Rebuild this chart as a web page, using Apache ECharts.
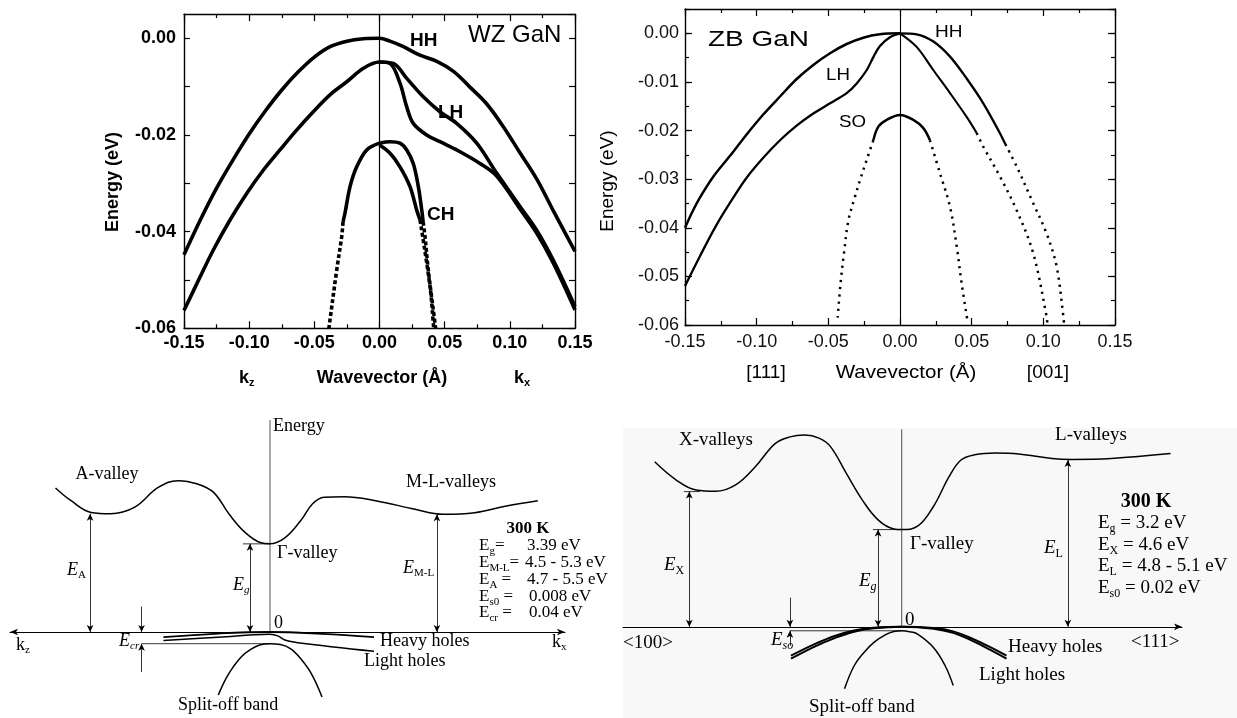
<!DOCTYPE html>
<html><head><meta charset="utf-8">
<script src="https://cdn.jsdelivr.net/npm/echarts@6/dist/echarts.min.js"></script>
<style>html,body{margin:0;padding:0;background:#fff}#c{width:1237px;height:718px}</style>
</head><body><div id="c"></div>
<script>
// ---------- Top-left: WZ GaN valence bands (k in 1/Å, E in eV) ----------
const wzHH = [[-0.15,-0.0448],[-0.1375,-0.0376],[-0.125,-0.031],[-0.1125,-0.0252],[-0.10,-0.0198],[-0.0875,-0.015],[-0.075,-0.0107],[-0.0625,-0.007],[-0.05,-0.0039],[-0.0375,-0.0017],[-0.025,-0.0006],[-0.0125,-0.0001],[0,0],[0.008,-0.0006],[0.018,-0.0017],[0.031,-0.0035],[0.044,-0.0048],[0.057,-0.0069],[0.069,-0.01],[0.082,-0.0135],[0.095,-0.0183],[0.108,-0.0238],[0.121,-0.0293],[0.133,-0.0355],[0.15,-0.0441]];
const wzLH = [[-0.15,-0.0563],[-0.1377,-0.0494],[-0.1275,-0.0438],[-0.1147,-0.0376],[-0.1019,-0.0321],[-0.0892,-0.0273],[-0.0764,-0.0231],[-0.0636,-0.019],[-0.0508,-0.0152],[-0.038,-0.0117],[-0.0251,-0.009],[-0.0124,-0.0062],[0,-0.0049],[0.0106,-0.0052],[0.0209,-0.0083],[0.0336,-0.0121],[0.0464,-0.0152],[0.0592,-0.0176],[0.0746,-0.0217],[0.0899,-0.0279],[0.1078,-0.0348],[0.1206,-0.0397],[0.1333,-0.0459],[0.15,-0.0555]];
const wzLH2 = [[0,-0.0049],[0.0081,-0.0052],[0.0157,-0.0093],[0.0209,-0.0142],[0.0259,-0.0176],[0.0362,-0.02],[0.0464,-0.0214],[0.0592,-0.0231],[0.0771,-0.0259],[0.0899,-0.0285],[0.1078,-0.0353],[0.1206,-0.0403],[0.1333,-0.0465],[0.15,-0.0562]];
const wzCHLeft = [[0,-0.0217],[-0.0098,-0.0231],[-0.0175,-0.0266],[-0.0226,-0.0307],[-0.0265,-0.0362],[-0.028,-0.038]];
const wzCHLeftDots = [[-0.028,-0.038],[-0.029,-0.041],[-0.0328,-0.0479],[-0.038,-0.0583],[-0.0388,-0.06]];
const wzCHRight = [[0,-0.0217],[0.0081,-0.0214],[0.0157,-0.0217],[0.0209,-0.0231],[0.0259,-0.0259],[0.0298,-0.0307],[0.0324,-0.0355],[0.0335,-0.038]];
const wzCHRightDots = [[0.0335,-0.038],[0.0349,-0.041],[0.0374,-0.0479],[0.0426,-0.059],[0.043,-0.06]];
const wzCH2Right = [[0,-0.0221],[0.0081,-0.0238],[0.0157,-0.0266],[0.0234,-0.0307],[0.0285,-0.0355],[0.0311,-0.0376]];
const wzCH2RightDots = [[0.0311,-0.0376],[0.0388,-0.0514],[0.0413,-0.059],[0.0416,-0.06]];

// ---------- Top-right: ZB GaN valence bands ----------
const zbHHLeft = [[-0.15,-0.04],[-0.145,-0.0368],[-0.1396,-0.0338],[-0.1303,-0.0295],[-0.1186,-0.0252],[-0.107,-0.0208],[-0.0954,-0.0167],[-0.0837,-0.013],[-0.0721,-0.0094],[-0.0605,-0.0065],[-0.0488,-0.0041],[-0.0372,-0.0022],[-0.0256,-0.0009],[-0.014,-0.0002],[0,0]];
const zbLHLeft = [[-0.15,-0.052],[-0.1395,-0.0458],[-0.128,-0.0394],[-0.1163,-0.0338],[-0.107,-0.0297],[-0.0954,-0.0256],[-0.0837,-0.022],[-0.0721,-0.019],[-0.0605,-0.0165],[-0.0488,-0.0144],[-0.0372,-0.0123],[-0.0302,-0.0103],[-0.0233,-0.0076],[-0.0186,-0.0049],[-0.014,-0.0026],[-0.007,-0.0008],[0,0]];
const zbHHRight = [[0,0],[0.0116,-0.0002],[0.0233,-0.0017],[0.0349,-0.0048],[0.0465,-0.0093],[0.0581,-0.0144],[0.0698,-0.0206],[0.0735,-0.0228]];
const zbHHRightDots = [[0.0735,-0.0228],[0.0814,-0.0274],[0.093,-0.035],[0.1023,-0.0412],[0.1093,-0.048],[0.114,-0.0583],[0.1145,-0.06]];
const zbLHRight = [[0,0],[0.0116,-0.0028],[0.0233,-0.0076],[0.0349,-0.0123],[0.0465,-0.0172],[0.0535,-0.0205]];
const zbLHRightDots = [[0.0535,-0.0205],[0.0581,-0.0233],[0.0698,-0.0295],[0.0814,-0.0364],[0.093,-0.0453],[0.1023,-0.0583],[0.1028,-0.06]];
const zbSO = [[-0.0186,-0.022],[-0.0151,-0.0192],[-0.0093,-0.0178],[0,-0.0168],[0.0093,-0.0178],[0.0163,-0.0195],[0.0209,-0.022]];
const zbSOLeftDots = [[-0.0186,-0.022],[-0.0233,-0.0261],[-0.0279,-0.0302],[-0.0314,-0.0336],[-0.036,-0.0385],[-0.039,-0.045],[-0.0415,-0.0515],[-0.0435,-0.0585]];
const zbSORightDots = [[0.0209,-0.022],[0.0279,-0.0288],[0.0349,-0.0357],[0.0396,-0.0439],[0.043,-0.0514],[0.047,-0.059]];

// ---------- Bottom-left: WZ GaN schematic (k arbitrary, E in eV-like units) ----------
const wzCond = [[-0.825,5.54],[-0.765,5.05],[-0.688,4.6],[-0.613,4.55],[-0.522,4.79],[-0.430,5.56],[-0.354,5.82],[-0.278,5.69],[-0.217,5.37],[-0.157,4.53],[-0.095,3.82],[-0.035,3.43],[0,3.39],[0.057,3.62],[0.117,4.27],[0.163,4.92],[0.208,5.18],[0.285,5.20],[0.406,5.05],[0.558,4.72],[0.665,4.53],[0.787,4.59],[0.909,4.85],[1.030,5.05]];
const wzHeavy = [[-0.41,-0.2],[-0.2,-0.06],[0,0],[0.2,-0.07],[0.4,-0.2]];
const wzLight = [[-0.41,-0.33],[-0.2,-0.2],[0,-0.09],[0.03,-0.15],[0.057,-0.31],[0.1,-0.4],[0.4,-0.74]];
const wzSplit = [[-0.199,-2.42],[-0.17,-1.8],[-0.142,-1.35],[-0.11,-0.95],[-0.077,-0.69],[-0.04,-0.5],[0,-0.45],[0.04,-0.48],[0.08,-0.65],[0.12,-1.05],[0.16,-1.62],[0.2,-2.5]];
const wzEnergyAxis = [[0,0],[0,8.15]];
const wzGapArrows = [[-0.692,4.55],[-0.077,3.39],[0.642,4.53]];
const wzGapTick = [[-0.104,3.39],[0,3.39]];
const wzCrMarker = [-0.494, 0.98, -1.54, -0.45];
const wzCrLevel = [[-0.494,-0.45],[0,-0.45]];

// ---------- Bottom-right: ZB GaN schematic ----------
const zbCond = [[-0.950,5.43],[-0.867,4.83],[-0.791,4.5],[-0.715,4.46],[-0.639,4.67],[-0.563,5.27],[-0.487,6.03],[-0.43,6.25],[-0.373,6.31],[-0.316,6.2],[-0.274,5.93],[-0.213,5.05],[-0.152,4.18],[-0.091,3.52],[-0.030,3.22],[0,3.2],[0.061,3.31],[0.122,3.96],[0.182,4.94],[0.228,5.49],[0.28,5.66],[0.36,5.72],[0.45,5.69],[0.578,5.54],[0.654,5.51],[0.806,5.54],[1.034,5.70]];
const zbHeavy = [[-0.426,-0.95],[-0.335,-0.57],[-0.258,-0.3],[-0.183,-0.12],[-0.107,-0.03],[0,0],[0.122,-0.04],[0.198,-0.15],[0.274,-0.4],[0.35,-0.71],[0.403,-0.95]];
const zbLight = [[-0.426,-1.05],[-0.335,-0.65],[-0.258,-0.37],[-0.183,-0.16],[-0.107,-0.05],[0,0],[0.122,-0.06],[0.198,-0.2],[0.274,-0.47],[0.35,-0.8],[0.403,-1.05]];
const zbSplit = [[-0.220,-2.04],[-0.183,-1.28],[-0.146,-0.85],[-0.107,-0.51],[-0.06,-0.25],[-0.03,-0.15],[0,-0.13],[0.03,-0.16],[0.061,-0.24],[0.122,-0.68],[0.167,-1.28],[0.198,-1.93]];
const zbEnergyAxis = [[0,0],[0,6.5]];
const zbGapArrows = [[-0.817,4.45],[-0.091,3.2],[0.639,5.49]];
const zbGapTick = [[-0.111,3.2],[0,3.2]];
const zbXTick = [[-0.838,4.45],[-0.776,4.45]];
const zbSoMarker = [-0.43, 0.96, -0.62, -0.13];
const zbSoLevel = [[-0.43,-0.13],[0,-0.13]];

// ---------- text helpers ----------
const mctx = document.createElement('canvas').getContext('2d');
function fontStr(size, fam, it, b){ return (it?'italic ':'')+(b?'bold ':'')+size+'px "'+fam+'"'; }
function seq(x, y, parts, size, fam, align){
  const items = parts.map(([t,k])=>{
    const sub = k.indexOf('s')>=0, it = k.indexOf('i')>=0, b = k.indexOf('b')>=0;
    const sz = sub ? Math.round(size*0.62) : size;
    const f = fontStr(sz, fam, it, b);
    mctx.font = f;
    return {t, f, w: mctx.measureText(t).width, dy: sub ? size*0.3 : 0};
  });
  const total = items.reduce((a,b)=>a+b.w,0);
  let cx = align==='center' ? x-total/2 : (align==='right' ? x-total : x);
  return items.map(it=>{
    const el = {type:'text', x:cx, y:y+it.dy, silent:true, z:100,
      style:{text:it.t, font:it.f, fill:'#000', align:'left', verticalAlign:'middle'}};
    cx += it.w; return el;
  });
}
function txt(x, y, t, size, fam, align, it, b, rot, sx){
  const el = {type:'text', x, y, silent:true, z:100,
    style:{text:t, font:fontStr(size,fam,it,b), fill:'#000', align:align||'left', verticalAlign:'middle'}};
  if (rot) el.rotation = rot;
  if (sx) el.scaleX = sx;
  return el;
}
const SANS = 'Liberation Sans', SERIF = 'Liberation Serif';

const fmt2 = v => { const s = (+v).toFixed(2); return s === '-0.00' ? '0.00' : s; };

// ---------- axes ----------
const tickStyle = {color:'#000', width:1.2};
function xFrame(gi, pos, showLabel, labelOpt, min, max){
  return {gridIndex:gi, type:'value', position:pos, min, max, interval:0.05,
    axisLine:{show:true, onZero:false, lineStyle:{color:'#000', width:1.4}},
    axisTick:{show:true, inside:true, length:7, lineStyle:tickStyle},
    minorTick:{show:true, splitNumber:2, length:4, lineStyle:tickStyle},
    axisLabel: showLabel ? Object.assign({formatter:fmt2, color:'#000'}, labelOpt) : {show:false},
    splitLine:{show:false}, minorSplitLine:{show:false}};
}
function yFrame(gi, pos, interval, max, len, showLabel, labelOpt, showLine){
  return {gridIndex:gi, type:'value', position:pos, min:-0.06, max, interval,
    axisLine:{show:showLine, onZero:false, lineStyle:{color:'#000', width:1.4}},
    axisTick:{show:true, inside:true, length:len, lineStyle:tickStyle},
    axisLabel: showLabel ? Object.assign({color:'#000', showMaxLabel:false}, labelOpt) : {show:false},
    splitLine:{show:false}};
}
const tlLabel = {fontFamily:SANS, fontSize:18, fontWeight:'bold', margin:6};
const trLabel = {fontFamily:SANS, fontSize:18, margin:8, color:'#111'};

const xAxes = [
  xFrame(0,'bottom',true,tlLabel,-0.15,0.15),
  xFrame(0,'top',false,null,-0.15,0.15),
  xFrame(1,'bottom',true,trLabel,-0.15,0.15),
  xFrame(1,'top',false,null,-0.15,0.15),
  {gridIndex:2, type:'value', min:-1, max:1.1346, axisLine:{show:true, onZero:true, symbol:['arrow','arrow'], symbolSize:[5,8], lineStyle:{color:'#000', width:1}}, axisTick:{show:false}, axisLabel:{show:false}, splitLine:{show:false}},
  {gridIndex:3, type:'value', min:-1.072, max:1.078, axisLine:{show:true, onZero:true, symbol:['none','arrow'], symbolSize:[5,8], lineStyle:{color:'#000', width:1}}, axisTick:{show:false}, axisLabel:{show:false}, splitLine:{show:false}}
];
const yAxes = [
  yFrame(0,'left',0.01,0.005,6,true,Object.assign({formatter: v => (Math.abs(Math.round(v*100))%2===0 ? fmt2(v) : '')}, tlLabel, {margin:8}),true),
  yFrame(0,'right',0.01,0.005,6,false,null,true),
  yFrame(1,'left',0.01,0.005,7,true,Object.assign({formatter:fmt2}, trLabel, {margin:6}),true),
  yFrame(1,'right',0.01,0.005,7,false,null,true),
  yFrame(1,'left',0.005,0.005,4,false,null,false),
  yFrame(1,'right',0.005,0.005,4,false,null,false),
  {gridIndex:2, type:'value', min:-3, max:8.2, show:false},
  {gridIndex:3, type:'value', min:-3, max:6.5, show:false}
];

// ---------- series ----------
function ln(data, xi, yi, w, type, smooth, color){
  return {type:'line', xAxisIndex:xi, yAxisIndex:yi, data, symbol:'none', showSymbol:false,
    smooth: smooth===undefined ? 0.35 : smooth, lineStyle:{color:color||'#000', width:w, type:type||'solid'},
    silent:true, animation:false, z:3};
}
function arrows(xi, yi, list){
  return {type:'line', xAxisIndex:xi, yAxisIndex:yi, data:[], silent:true, animation:false,
    markLine:{silent:true, animation:false, symbol:['arrow','arrow'], symbolSize:[5,7], label:{show:false},
      lineStyle:{color:'#000', width:0.8, type:'solid'}, emphasis:{disabled:true}, data:list}};
}
const tlDots = [4,2.5], trDots = [2.2,5];
const series = [];
// top-left
const hh = ln(wzHH,0,0,3.6);
hh.markLine = {silent:true, animation:false, symbol:'none', label:{show:false}, lineStyle:{color:'#000', width:1.2, type:'solid'}, data:[{xAxis:0}]};
series.push(hh, ln(wzLH,0,0,3.6), ln(wzLH2,0,0,3.6), ln(wzCHLeft,0,0,3.6), ln(wzCHLeftDots,0,0,3.6,tlDots),
  ln(wzCHRight,0,0,3.6), ln(wzCHRightDots,0,0,3.6,tlDots), ln(wzCH2Right,0,0,3.6), ln(wzCH2RightDots,0,0,3.6,tlDots));
// top-right
const zh = ln(zbHHLeft,2,2,2.5);
zh.markLine = {silent:true, animation:false, symbol:'none', label:{show:false}, lineStyle:{color:'#000', width:1.1, type:'solid'}, data:[{xAxis:0}]};
series.push(zh, ln(zbLHLeft,2,2,2.3), ln(zbHHRight,2,2,2.3), ln(zbHHRightDots,2,2,2.5,trDots), ln(zbLHRight,2,2,2.1),
  ln(zbLHRightDots,2,2,2.5,trDots), ln(zbSO,2,2,2.5), ln(zbSOLeftDots,2,2,2.5,trDots), ln(zbSORightDots,2,2,2.5,trDots));
// bottom-left
series.push(ln(wzCond,4,6,1.5,'solid',0.4), ln(wzHeavy,4,6,1.8,'solid',0.4), ln(wzLight,4,6,1.5,'solid',0.4),
  ln(wzSplit,4,6,1.5,'solid',0.4), ln(wzEnergyAxis,4,6,0.8,'solid',0,'#222'), ln(wzGapTick,4,6,0.8,'solid',0),
  ln(wzCrLevel,4,6,0.8,'solid',0));
series.push(arrows(4,6, wzGapArrows.map(([k,e])=>[{coord:[k,0]},{coord:[k,e]}]).concat([
  [{coord:[wzCrMarker[0],wzCrMarker[1]], symbol:'none'},{coord:[wzCrMarker[0],0], symbol:'arrow'}],
  [{coord:[wzCrMarker[0],wzCrMarker[2]], symbol:'none'},{coord:[wzCrMarker[0],wzCrMarker[3]], symbol:'arrow'}]
])));
// bottom-right
series.push(ln(zbCond,5,7,1.5,'solid',0.4), ln(zbHeavy,5,7,2,'solid',0.4), ln(zbLight,5,7,2,'solid',0.4),
  ln(zbSplit,5,7,1.5,'solid',0.4), ln(zbEnergyAxis,5,7,0.8,'solid',0,'#222'), ln(zbGapTick,5,7,0.8,'solid',0),
  ln(zbXTick,5,7,0.8,'solid',0), ln(zbSoLevel,5,7,0.8,'solid',0));
series.push(arrows(5,7, zbGapArrows.map(([k,e])=>[{coord:[k,0]},{coord:[k,e]}]).concat([
  [{coord:[zbSoMarker[0],zbSoMarker[1]], symbol:'none'},{coord:[zbSoMarker[0],0], symbol:'arrow'}],
  [{coord:[zbSoMarker[0],zbSoMarker[2]], symbol:'none'},{coord:[zbSoMarker[0],zbSoMarker[3]], symbol:'arrow'}]
])));

// ---------- texts ----------
let G = [];
G.push({type:'rect', shape:{x:623, y:428, width:614, height:290}, style:{fill:'#f8f8f8'}, z:-10, silent:true});
// top-left
G.push(txt(410,41,'HH',19,SANS,'left',false,true), txt(468,35,'WZ GaN',24,SANS,'left'),
  txt(438,113,'LH',19,SANS,'left',false,true), txt(427,215,'CH',19,SANS,'left',false,true),
  txt(113,182,'Energy (eV)',18,SANS,'center',false,true,Math.PI/2),
  txt(382,378,'Wavevector (Å)',18,SANS,'center',false,true));
G = G.concat(seq(239,378,[['k','b'],['z','sb']],18,SANS,'left'), seq(514,378,[['k','b'],['x','sb']],18,SANS,'left'));
// top-right
G.push(txt(708,40,'ZB GaN',22,SANS,'left',false,false,0,1.27), txt(935,32,'HH',17,SANS,'left',false,false,0,1.12),
  txt(826,75,'LH',17,SANS,'left',false,false,0,1.1), txt(839,122,'SO',17,SANS,'left',false,false,0,1.1),
  txt(608,181,'Energy (eV)',19,SANS,'center',false,false,Math.PI/2),
  txt(906,373,'Wavevector (Å)',19,SANS,'center',false,false,0,1.08), txt(766,373,'[111]',19,SANS,'center'), txt(1048,373,'[001]',19,SANS,'center'));
// bottom-left
G.push(txt(273,426,'Energy',18,SERIF,'left'), txt(107,474,'A-valley',18,SERIF,'center'),
  txt(451,482,'M-L-valleys',18,SERIF,'center'), txt(277,553,'Γ-valley',18,SERIF,'left'),
  txt(274,623,'0',18,SERIF,'left'), txt(380,641,'Heavy holes',18,SERIF,'left'),
  txt(364,661,'Light holes',18,SERIF,'left'), txt(178,705,'Split-off band',18,SERIF,'left'),
  txt(528,529,'300 K',17,SERIF,'center',false,true));
G = G.concat(
  seq(67,570,[['E','i'],['A','s']],18,SERIF,'left'),
  seq(233,585,[['E','i'],['g','si']],18,SERIF,'left'),
  seq(403,568,[['E','i'],['M-L','s']],18,SERIF,'left'),
  seq(119,641,[['E','i'],['cr','si']],18,SERIF,'left'),
  seq(16,645,[['k','n'],['z','s']],18,SERIF,'left'),
  seq(552,642,[['k','n'],['x','s']],18,SERIF,'left'),
  seq(479,546,[['E','n'],['g','s'],['=','n']],17,SERIF,'left'),
  seq(479,563,[['E','n'],['M-L','s'],['=','n']],17,SERIF,'left'),
  seq(479,580,[['E','n'],['A','s'],[' =','n']],17,SERIF,'left'),
  seq(479,597,[['E','n'],['s0','s'],[' =','n']],17,SERIF,'left'),
  seq(479,613,[['E','n'],['cr','s'],[' =','n']],17,SERIF,'left'));
G.push(txt(527,546,'3.39 eV',17,SERIF), txt(525,563,'4.5 - 5.3 eV',17,SERIF), txt(527,580,'4.7 - 5.5 eV',17,SERIF),
  txt(529,597,'0.008 eV',17,SERIF), txt(529,613,'0.04 eV',17,SERIF));
// bottom-right
G.push(txt(716,440,'X-valleys',19,SERIF,'center'), txt(1091,435,'L-valleys',19,SERIF,'center'),
  txt(910,544,'Γ-valley',19,SERIF,'left'), txt(905,620,'0',19,SERIF,'left'),
  txt(623,643,'<100>',19,SERIF,'left'), txt(1131,642,'<111>',19,SERIF,'left'),
  txt(1008,647,'Heavy holes',19,SERIF,'left'), txt(979,675,'Light holes',19,SERIF,'left'),
  txt(809,707,'Split-off band',19,SERIF,'left'), txt(1146,502,'300 K',20,SERIF,'center',false,true));
G = G.concat(
  seq(664,565,[['E','i'],['X','s']],19,SERIF,'left'),
  seq(859,581,[['E','i'],['g','si']],19,SERIF,'left'),
  seq(1044,548,[['E','i'],['L','s']],19,SERIF,'left'),
  seq(771,640,[['E','i'],['so','si']],19,SERIF,'left'),
  seq(1098,523,[['E','n'],['g','s'],[' = 3.2 eV','n']],19,SERIF,'left'),
  seq(1098,545,[['E','n'],['X','s'],[' = 4.6 eV','n']],19,SERIF,'left'),
  seq(1098,566,[['E','n'],['L','s'],[' = 4.8 - 5.1 eV','n']],19,SERIF,'left'),
  seq(1098,588,[['E','n'],['s0','s'],[' = 0.02 eV','n']],19,SERIF,'left'));

const chart = echarts.init(document.getElementById('c'));
chart.setOption({
  animation:false,
  backgroundColor:'#fff',
  grid:[
    {left:184, top:14.1, width:391, height:314.2},
    {left:685, top:9, width:430, height:316},
    {left:10, top:418.8, width:555, height:291.2},
    {left:623, top:429.3, width:559, height:292.6}
  ],
  xAxis:xAxes, yAxis:yAxes, series,
  graphic:{elements:G}
});
</script></body></html>
